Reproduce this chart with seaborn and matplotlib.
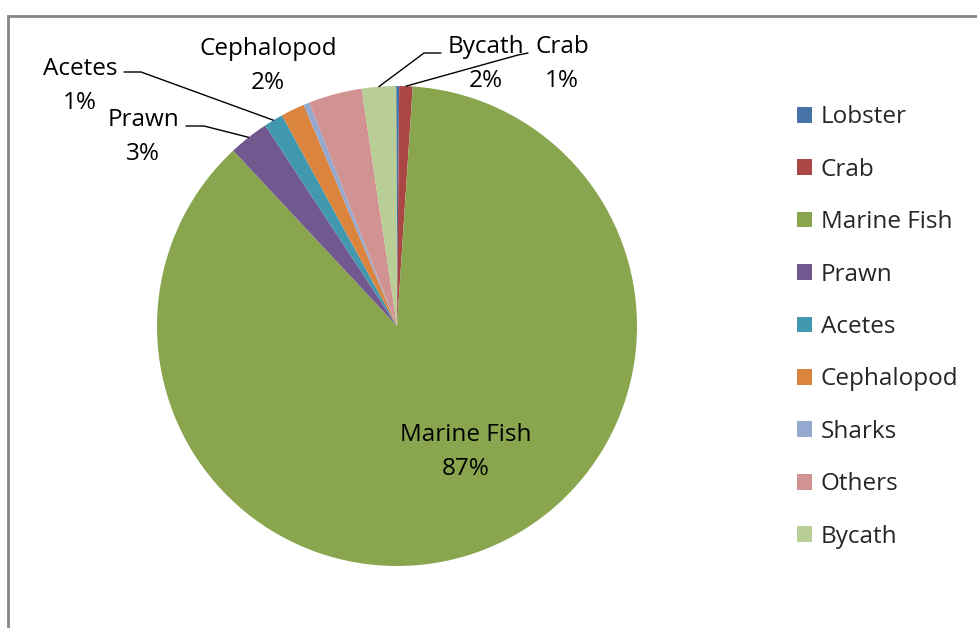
import matplotlib
matplotlib.use("Agg")
import numpy as np
import matplotlib.pyplot as plt
import matplotlib.patches as mpatches
from matplotlib.lines import Line2D
import seaborn as sns

# categories and shares (%), clockwise from 12 o'clock
categories = ['Lobster', 'Crab', 'Marine Fish', 'Prawn', 'Acetes',
              'Cephalopod', 'Sharks', 'Others', 'Bycath']
shares = [0.2, 0.9, 87.0, 2.7, 1.3, 1.6, 0.4, 3.6, 2.3]
colors = ['#4572A7', '#AA4643', '#89A54E', '#71588F', '#4198AF',
          '#DB843D', '#93A9CF', '#D19392', '#B9CD96']
labelled = ['Crab', 'Marine Fish', 'Prawn', 'Acetes', 'Cephalopod', 'Bycath']

sns.set_theme(style="white")
plt.rcParams['font.family'] = ['Open Sans', 'DejaVu Sans']

W, H = 978, 628
fig = plt.figure(figsize=(W / 100, H / 100), dpi=100)
fig.patch.set_facecolor('white')

# outer chart frame (only top and left edge visible in the picture)
fig.patches.append(mpatches.Rectangle((8 / W, -0.1), 1.2, (H - 16) / H + 0.1,
                                      transform=fig.transFigure, fill=False,
                                      edgecolor='#868686', linewidth=2))

cx, cy, r = 397, H - 326, 240
ax = fig.add_axes([(cx - r) / W, (cy - r) / H, 2 * r / W, 2 * r / H])
wedges, _ = ax.pie(shares, colors=colors, startangle=90.2, counterclock=False,
                   radius=1.0, wedgeprops=dict(linewidth=0))
ax.set_xlim(-1, 1)
ax.set_ylim(-1, 1)
ax.set_aspect('equal')
ax.axis('off')

fs = 17.5
pct = {c: f"{round(v):d}%" for c, v in zip(categories, shares)}

# label text positions in image pixels (x, y from top)
text_pos = {
    'Marine Fish': (466, 452),
    'Crab': (562, 64),
    'Bycath': (486, 64),
    'Cephalopod': (268, 66),
    'Acetes': (80, 86),
    'Prawn': (143, 137),
}
# leader lines: (text end, elbow) in image pixels
leaders = {
    'Crab': ((528, 53), (518, 55)),
    'Bycath': ((441, 53), (424, 53)),
    'Acetes': ((124, 72), (141, 72)),
    'Prawn': ((186, 126), (204, 126)),
}

for w, c in zip(wedges, categories):
    if c not in labelled:
        continue
    x, y = text_pos[c]
    fig.text(x / W, (H - y) / H, f"{c}\n{pct[c]}", ha='center', va='center',
             fontsize=fs, color='black', linespacing=1.55)
    if c in leaders:
        mid = np.deg2rad((w.theta1 + w.theta2) / 2)
        px, py = ax.transData.transform((np.cos(mid), np.sin(mid)))
        (x0, y0), (x1, y1) = leaders[c]
        fig.add_artist(Line2D([x0, x1, px], [H - y0, H - y1, py], transform=None,
                              color='black', linewidth=1))

fig.legend(wedges, categories, loc='center left',
           bbox_to_anchor=(797 / W, (H - 327) / H), frameon=False,
           fontsize=fs, labelspacing=1.17, handlelength=0.62, handleheight=0.62,
           handletextpad=0.35, borderpad=0, borderaxespad=0)

fig.savefig('out.png', dpi=100, facecolor='white')
